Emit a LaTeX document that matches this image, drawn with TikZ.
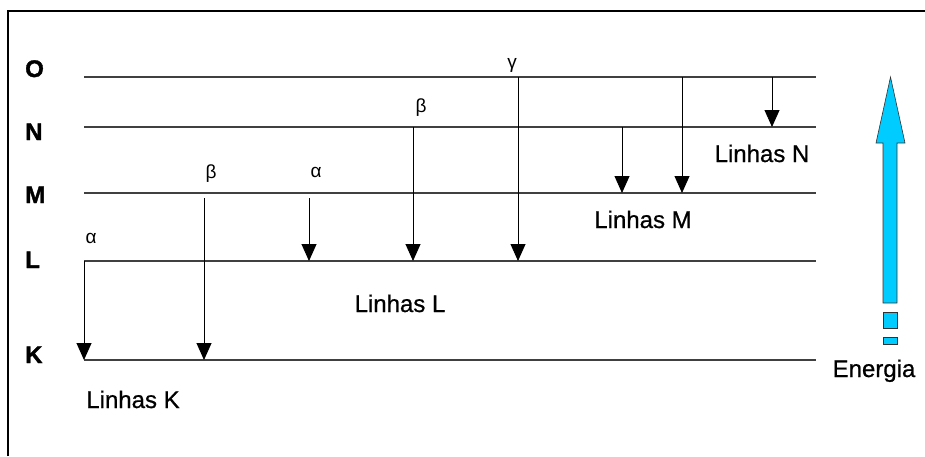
\documentclass[tikz,border=0pt]{standalone}
\usepackage{fontspec}
\setmainfont{Liberation Sans}
\usetikzlibrary{arrows.meta}
\definecolor{energycyan}{RGB}{0,204,255}

\begin{document}
\begin{tikzpicture}[
  x=1pt, y=-1pt,
  level/.style={draw=black!75, line width=1.3pt},
  shell/.style={font=\fontsize{24}{24}\selectfont\bfseries\addfontfeature{FakeBold=1.5},
    anchor=base west, inner sep=0pt},
  greek/.style={font=\fontsize{19}{19}\selectfont, anchor=base, inner sep=0pt},
  series/.style={font=\fontsize{24}{24}\selectfont\addfontfeature{FakeBold=0.8},
    anchor=base, inner sep=0pt},
  trans/.style={draw, line width=0.9pt, -{Triangle[length=17pt,width=15pt]}}
]
\useasboundingbox (0,0) rectangle (925,456);
\draw[line width=1.3pt] (8,456) -- (8,11) -- (925,11);

% shells and their levels
\foreach \s/\y/\ly in {O/77/77,N/127/140,M/193/203,L/261/268,K/360/363}{
  \node[shell] (lbl\s) at (25,\ly) {\s};
  \coordinate (\s-a) at (84,\y);
  \coordinate (\s-b) at (816,\y);
  \draw[level] (\s-a) -- (\s-b);
}

% transitions
\foreach \t/\x/\y/\s in {Ka/84/261/K, Kb/204/198/K, La/309/198/L, Lb/413/127/L,
                         Lg/518/77/L, Ma/622/127/M, Mb/682/77/M, Na/772/77/N}{
  \coordinate (\t) at (\x,\y);
  \draw[trans] (\t) -- (\t |- \s-a);
}

\node[greek] (gKa) at (91,243) {α};
\node[greek] (gKb) at (211,178) {β};
\node[greek] (gLa) at (316,177) {α};
\node[greek] (gLb) at (421,112) {β};
\node[greek] (gLg) at (512,68) {γ};

\node[series] (linhasK) at (133,408) {Linhas K};
\node[series] (linhasL) at (400,312) {Linhas L};
\node[series] (linhasM) at (643,228) {Linhas M};
\node[series] (linhasN) at (762,162) {Linhas N};

% energy arrow
\filldraw[fill=energycyan, draw=black!80, line width=0.6pt]
  (883,303) -- (883,143) -- (876,143) -- (890.5,77) -- (905,143)
  -- (897,143) -- (897,303) -- cycle;
\filldraw[fill=energycyan, draw=black!80, line width=0.6pt] (883,312) rectangle (897,328);
\filldraw[fill=energycyan, draw=black!80, line width=0.6pt] (883,337) rectangle (897,344);
\node[series] (energia) at (874,377) {Energia};
\end{tikzpicture}
\end{document}
